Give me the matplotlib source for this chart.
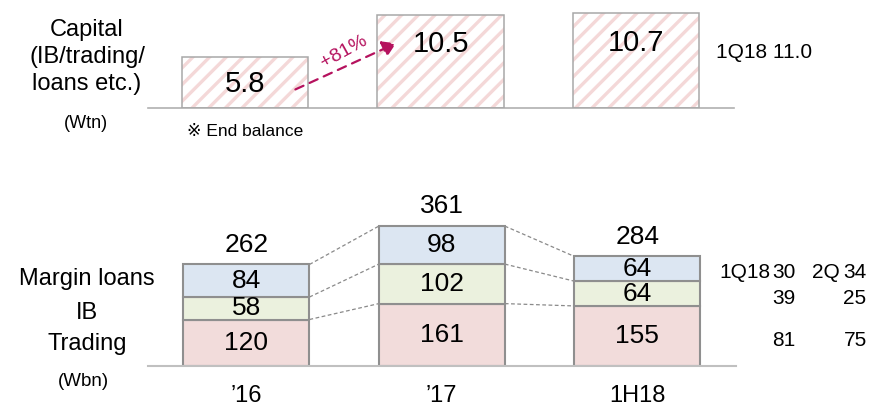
import matplotlib
matplotlib.use("Agg")
import matplotlib.pyplot as plt
import numpy as np

plt.rcParams['font.family'] = ['Liberation Sans', 'DejaVu Sans']
plt.rcParams['hatch.linewidth'] = 2.4

periods = ["’16", "’17", "1H18"]
capital = [5.8, 10.5, 10.7]
capital_1q18 = 11.0

trading = [120, 161, 155]
ib = [58, 102, 64]
margin = [84, 98, 64]
totals = [262, 361, 284]
seg_names = ["Margin loans", "IB", "Trading"]
q1_18 = [30, 39, 81]   # margin loans, IB, trading
q2_18 = [34, 25, 75]

W, H = 872, 409
fig = plt.figure(figsize=(W / 100, H / 100), dpi=100)


def fx(x):
    return x / W


def fy(y):
    return 1 - y / H


x = np.arange(len(periods))
bw = 0.645

# --- capital (top) ---
ax1 = fig.add_axes([fx(148), fy(108), fx(734 - 148), 106 / H])
# pink stripes first, then the grey outline on top
ax1.bar(x, capital, width=bw, facecolor='white', edgecolor='#f4d8d8',
        linewidth=0, hatch='//', zorder=2)
ax1.bar(x, capital, width=bw, facecolor='none', edgecolor='#a8a8a8',
        linewidth=1.1, zorder=3)
label_pos = [0.47, 0.69, 0.69]
for i, v in enumerate(capital):
    ax1.text(x[i], v * label_pos[i], f"{v}", ha='center', va='center',
             fontsize=21, color='black', zorder=4)
ax1.set_xlim(-0.496, 2.501)
ax1.set_ylim(0, 12)
for s in ['top', 'right', 'left']:
    ax1.spines[s].set_visible(False)
ax1.spines['bottom'].set_color('#b0b0b0')
ax1.spines['bottom'].set_linewidth(1.2)
ax1.set_xticks([])
ax1.set_yticks([])
ax1.patch.set_alpha(0)

# growth arrow '16 -> '17
growth = (capital[1] / capital[0] - 1) * 100
p0 = (x[0] + 0.245, capital[0] * 0.34)
p1 = (x[1] - 0.215, capital[1] * 0.71)
ax1.annotate("", xy=p1, xytext=p0,
             arrowprops=dict(arrowstyle='-|>,head_length=0.8,head_width=0.5',
                             color='#b5125e', lw=1.6, linestyle=(0, (4, 3))),
             zorder=5)
ax1.text((p0[0] + p1[0]) / 2 - 0.01, (p0[1] + p1[1]) / 2 + 1.7, f"+{growth:.0f}%",
         rotation=29, ha='center', va='center', fontsize=14, color='#b5125e')

fig.text(fx(87), fy(57), "Capital\n(IB/trading/\nloans etc.)", ha='center',
         va='center', fontsize=17, linespacing=1.3)
fig.text(fx(86), fy(124), "(Wtn)", ha='center', va='center', fontsize=13)
fig.text(fx(187), fy(132), "※ End balance", ha='left', va='center', fontsize=12.5)
fig.text(fx(716), fy(52), f"1Q18 {capital_1q18}", ha='left', va='center', fontsize=15)

# --- earnings (bottom) ---
ax2 = fig.add_axes([fx(148), fy(366), fx(736 - 148), 155 / H])
stack = [trading, ib, margin]
colors = ['#f2dcdb', '#ebf1de', '#dce6f2']
bottom = np.zeros(len(periods))
for vals, c in zip(stack, colors):
    ax2.bar(x, vals, width=bw, bottom=bottom, facecolor=c, edgecolor='#8f8f8f',
            linewidth=1.5, zorder=2)
    for i, v in enumerate(vals):
        ax2.text(x[i], bottom[i] + v / 2, str(v), ha='center', va='center',
                 fontsize=19, zorder=3)
    bottom += np.array(vals)
    # dashed connectors between the stack levels
    for i in range(len(periods) - 1):
        ax2.plot([x[i] + bw / 2, x[i + 1] - bw / 2], [bottom[i], bottom[i + 1]],
                 color='#8a8a8a', lw=0.9, linestyle=(0, (3, 2)), zorder=1)

for i, t in enumerate(totals):
    ax2.text(x[i], bottom[i] + 20, str(t), ha='center', va='bottom', fontsize=19,
             clip_on=False)

ax2.set_xlim(-0.504, 2.506)
ax2.set_ylim(0, 400)
for s in ['top', 'right', 'left']:
    ax2.spines[s].set_visible(False)
ax2.spines['bottom'].set_color('#c0c0c0')
ax2.spines['bottom'].set_linewidth(1.5)
ax2.set_yticks([])
ax2.set_xticks(x)
ax2.set_xticklabels(periods, fontsize=17)
ax2.tick_params(axis='x', length=0, pad=14)
ax2.patch.set_alpha(0)

for name, yy in zip(seg_names, [279, 313, 344]):
    fig.text(fx(87), fy(yy), name, ha='center', va='center', fontsize=17)
fig.text(fx(83), fy(382), "(Wbn)", ha='center', va='center', fontsize=13.5)

# quarterly split of 1H18
rows_y = [272, 298, 340]
for r, (a, b) in enumerate(zip(q1_18, q2_18)):
    fig.text(fx(784), fy(rows_y[r]), str(a), ha='center', va='center', fontsize=15)
    fig.text(fx(855), fy(rows_y[r]), str(b), ha='center', va='center', fontsize=15)
fig.text(fx(770), fy(rows_y[0]), "1Q18", ha='right', va='center', fontsize=15)
fig.text(fx(840), fy(rows_y[0]), "2Q", ha='right', va='center', fontsize=15)

fig.savefig("out.png", dpi=100)
